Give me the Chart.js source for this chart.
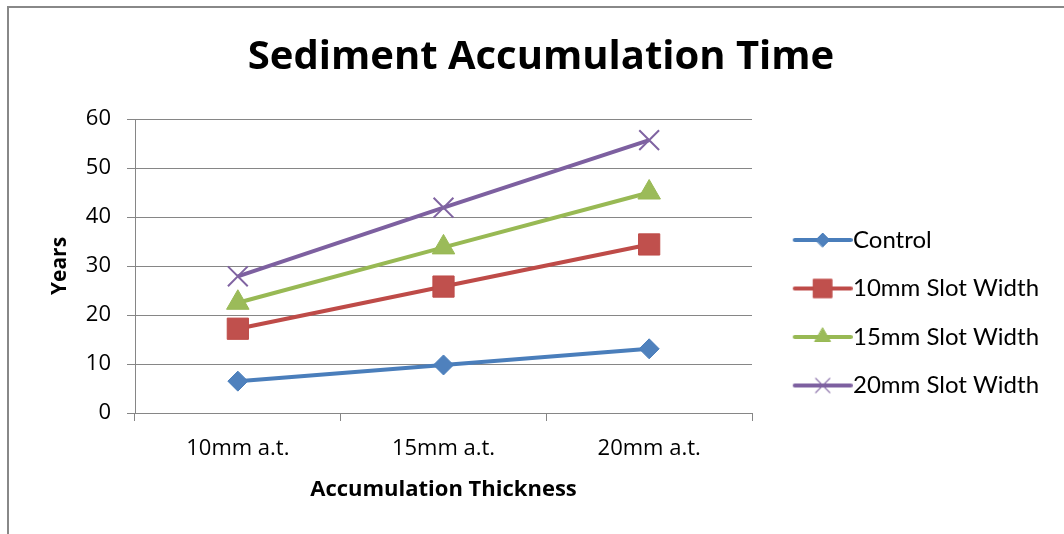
<!DOCTYPE html>
<html>
<head>
<meta charset="utf-8">
<script src="https://cdn.jsdelivr.net/npm/chart.js@4.4.1/dist/chart.umd.min.js"></script>
<style>
  html, body { margin: 0; padding: 0; background: #fff; }
  #wrap { position: relative; width: 1064px; height: 534px; overflow: hidden; }
  #frame { position: absolute; left: 7px; top: 6px; width: 1200px; height: 700px; border-left: 2px solid #888; border-top: 2px solid #888; }
  #chart { position: absolute; left: 0; top: 0; }
</style>
</head>
<body>
<div id="wrap">
  <div id="frame"></div>
  <canvas id="chart" width="1064" height="534"></canvas>
</div>
<script>
const categories = ['10mm a.t.', '15mm a.t.', '20mm a.t.'];
const seriesNames = ['Control', '10mm Slot Width', '15mm Slot Width', '20mm Slot Width'];
const controlYears = [6.5, 9.8, 13.1];
const slot10Years = [17.2, 25.8, 34.4];
const slot15Years = [22.5, 33.8, 45.0];
const slot20Years = [27.9, 41.9, 55.7];
const yMin = 0;
const yMax = 60;
const yStep = 10;

const FONT = '"Open Sans", Lato, sans-serif';
const LEGEND_FONT = 'Lato, "Open Sans", sans-serif';
const GRID = '#868686';

// line colour, marker fill, marker shape and size per series
const seriesStyles = [
  { line: '#4A7EBB', fill: '#4F81BD', shape: 'rectRot', radius: 10, border: 1, legendRadius: 7 },
  { line: '#BE4B48', fill: '#C0504D', shape: 'rect', radius: 15, border: 1, legendRadius: 13 },
  { line: '#98B954', fill: '#9BBB59', shape: 'triangle', radius: 13, border: 1, legendRadius: 9 },
  { line: '#7D60A0', fill: '#8064A2', shape: 'crossRot', radius: 14, border: 2, legendRadius: 10 },
];
const seriesValues = [controlYears, slot10Years, slot15Years, slot20Years];

// legend swatch: a short line with the marker on it
function legendSwatch(style) {
  const c = document.createElement('canvas');
  c.width = 88;
  c.height = 30;
  const ctx = c.getContext('2d');
  ctx.strokeStyle = style.line;
  ctx.lineWidth = 4;
  ctx.lineCap = 'round';
  ctx.beginPath();
  ctx.moveTo(30, 15);
  ctx.lineTo(86, 15);
  ctx.stroke();
  ctx.fillStyle = style.fill;
  ctx.strokeStyle = style.shape === 'crossRot' ? style.fill : style.line;
  ctx.lineWidth = style.shape === 'crossRot' ? 1.2 : 1;
  Chart.helpers.drawPoint(ctx, {
    pointStyle: style.shape,
    radius: style.legendRadius,
    rotation: 0,
    borderWidth: ctx.lineWidth,
  }, 58, 15);
  return c;
}
const swatches = seriesStyles.map(legendSwatch);

new Chart(document.getElementById('chart'), {
  type: 'line',
  data: {
    labels: categories,
    datasets: seriesNames.map((name, i) => ({
      label: name,
      data: seriesValues[i],
      borderColor: seriesStyles[i].line,
      backgroundColor: seriesStyles[i].fill,
      borderWidth: 4,
      tension: 0,
      pointStyle: seriesStyles[i].shape,
      pointRadius: seriesStyles[i].radius,
      pointHoverRadius: seriesStyles[i].radius,
      pointBackgroundColor: seriesStyles[i].fill,
      pointBorderColor: seriesStyles[i].shape === 'crossRot' ? seriesStyles[i].fill : seriesStyles[i].line,
      pointBorderWidth: seriesStyles[i].border,
    })),
  },
  options: {
    responsive: false,
    animation: false,
    devicePixelRatio: 1,
    layout: { padding: { top: 10, left: 40, right: 22, bottom: 20 } },
    plugins: {
      tooltip: { enabled: false },
      title: {
        display: true,
        text: 'Sediment Accumulation Time',
        color: '#000',
        font: { family: FONT, size: 40, weight: 'bold' },
        padding: { top: 24, bottom: 37 },
      },
      legend: {
        position: 'right',
        align: 'center',
        maxWidth: 290,
        title: { display: true, text: '', padding: { top: 87, bottom: 0 } },
        labels: {
          usePointStyle: true,
          pointStyleWidth: 64.5,
          padding: 24.5,
          color: '#000',
          font: { family: LEGEND_FONT, size: 24 },
          generateLabels(chart) {
            const items = Chart.defaults.plugins.legend.labels.generateLabels(chart);
            items.forEach((item, i) => { item.pointStyle = swatches[i]; });
            return items;
          },
        },
      },
    },
    scales: {
      x: {
        offset: true,
        afterFit(scale) { scale.height = 101; },
        grid: { offset: true, drawOnChartArea: false, color: GRID, tickLength: 8 },
        border: { color: GRID, width: 1 },
        ticks: { color: '#000', padding: 15, font: { family: FONT, size: 22 } },
        title: {
          display: true,
          text: 'Accumulation Thickness',
          color: '#000',
          font: { family: FONT, size: 22, weight: 'bold' },
          padding: { top: 0, bottom: 11 },
        },
      },
      y: {
        min: yMin,
        max: yMax,
        afterFit(scale) { scale.width = 95; },
        grid: { color: GRID, tickLength: 8 },
        border: { color: GRID, width: 1 },
        ticks: { stepSize: yStep, color: '#000', padding: 16, font: { family: FONT, size: 22 } },
        title: {
          display: true,
          text: 'Years',
          color: '#000',
          font: { family: FONT, size: 21, weight: 'bold' },
          padding: { top: 7, bottom: 0 },
        },
      },
    },
  },
});
</script>
</body>
</html>
